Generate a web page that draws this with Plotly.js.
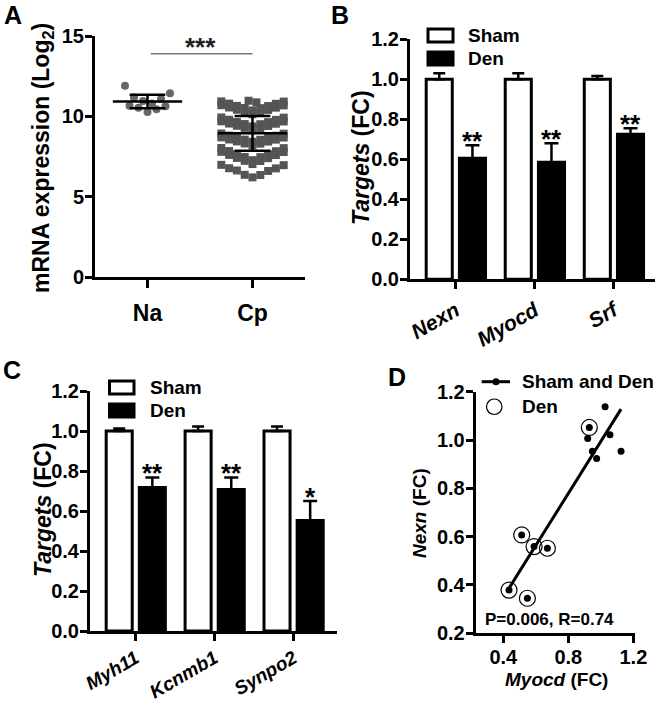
<!DOCTYPE html>
<html><head><meta charset="utf-8">
<script src="https://cdn.plot.ly/plotly-3.0.1.min.js"></script>
<style>html,body{margin:0;padding:0;background:#fff}#chart{width:660px;height:701px}</style>
</head><body><div id="chart"></div>
<script>
// ---------------- DATA ----------------
// Panel A : mRNA expression (Log2), scatter dot plot
const groupsA = ['Na', 'Cp'];
const naRowLow  = [10.27, 10.44, 10.54, 10.62, 10.66];
const naRowHigh = [10.80, 10.96, 11.08, 11.17, 11.44, 11.90];
const cpRowTop     = [10.87, 10.97];
const cpBand1Upper = [10.37, 10.51, 10.52, 10.64, 10.65, 10.78, 10.79, 10.92, 10.93];
const cpBand1Lower = [10.13, 10.27, 10.28, 10.40, 10.41, 10.54, 10.55, 10.68, 10.69];
const cpBand2Upper = [9.37, 9.51, 9.52, 9.64, 9.65, 9.78, 9.79, 9.92, 9.93];
const cpBand2Lower = [9.13, 9.27, 9.28, 9.40, 9.41, 9.54, 9.55, 9.68, 9.69];
const cpBand3Upper = [8.42, 8.54, 8.55, 8.67, 8.68, 8.79, 8.80, 8.92, 8.93];
const cpBand3Lower = [8.18, 8.30, 8.31, 8.43, 8.44, 8.55, 8.56, 8.68, 8.69];
const cpBand4Upper = [7.27, 7.46, 7.47, 7.64, 7.65, 7.83, 7.84, 8.02, 8.03];
const cpBand4Lower = [7.03, 7.22, 7.23, 7.40, 7.41, 7.59, 7.60, 7.78, 7.79];
const cpRowBottom  = [6.20, 6.35, 6.36, 6.60, 6.63, 6.76, 6.77, 6.96, 6.98];
const meansA = [10.92, 8.94];
const sdsA   = [0.42, 1.08];
const sigLabelA = '***';
const sigLevelA = 13.9;

// Panel B : Targets (FC)
const targetsB = ['Nexn', 'Myocd', 'Srf'];
const shamB    = [1.00, 1.00, 1.00];
const shamErrB = [0.030, 0.030, 0.016];
const denB     = [0.605, 0.585, 0.725];
const denErrB  = [0.065, 0.095, 0.030];
const sigB     = ['**', '**', '**'];

// Panel C : Targets (FC)
const targetsC = ['Myh11', 'Kcnmb1', 'Synpo2'];
const shamC    = [1.00, 1.00, 1.00];
const shamErrC = [0.012, 0.022, 0.022];
const denC     = [0.718, 0.708, 0.553];
const denErrC  = [0.050, 0.060, 0.097];
const sigC     = ['**', '**', '*'];

// Panel D : Nexn vs Myocd
const shamMyocdD = [0.919, 1.026, 1.056, 0.948, 0.974, 1.124];
const shamNexnD  = [1.006, 1.138, 1.022, 0.954, 0.924, 0.954];
const denMyocdD  = [0.929, 0.513, 0.589, 0.671, 0.435, 0.548];
const denNexnD   = [1.052, 0.607, 0.559, 0.552, 0.379, 0.345];
const pValueD = '0.006';
const rValueD = '0.74';

// ---------------- LAYOUT HELPERS ----------------
const W = 660, H = 701;
const px = x => x / W;
const py = y => 1 - y / H;
const FONT = 'Liberation Sans, Arial, Helvetica, sans-serif';

const geoA = {x0: 95,    x1: 305,   y0: 36,    y1: 277,   xr: [0.5, 2.5],   yr: [0, 15]};
const geoB = {x0: 410,   x1: 655,   y0: 39.3,  y1: 279.3, xr: [-0.58, 2.52], yr: [0, 1.2]};
const geoC = {x0: 90,    x1: 337,   y0: 391,   y1: 631,   xr: [-0.58, 2.55], yr: [0, 1.2]};
const geoD = {x0: 475.7, x1: 635,   y0: 391.7, y1: 633.3, xr: [0.23, 1.21], yr: [0.2, 1.2]};

const unitsPerPxA = (geoA.xr[1] - geoA.xr[0]) / (geoA.x1 - geoA.x0);

function swarm(center, values, spacing) {
  const v = values.slice().sort((a, b) => a - b);
  const n = v.length;
  const xs = v.map((_, i) => {
    let slot;
    if (n % 2 === 1) slot = (i === 0) ? 0 : (i % 2 === 1 ? (i + 1) / 2 : -i / 2);
    else { const k = Math.floor(i / 2); slot = (i % 2 === 0 ? 1 : -1) * (k + 0.5); }
    return center + slot * spacing * unitsPerPxA;
  });
  return {x: xs, y: v};
}

const traces = [];

const naRows = [naRowLow, naRowHigh];
const cpRows = [cpRowTop, cpBand1Upper, cpBand1Lower, cpBand2Upper, cpBand2Lower,
                cpBand3Upper, cpBand3Lower, cpBand4Upper, cpBand4Lower, cpRowBottom];
function collect(rows, center, spacing) {
  const X = [], Y = [];
  rows.forEach(r => { const s = swarm(center, r, spacing); X.push(...s.x); Y.push(...s.y); });
  return {X, Y};
}
const naPts = collect(naRows, 1, 9);
const cpPts = collect(cpRows, 2, 7.8);
traces.push({type: 'scatter', mode: 'markers', x: naPts.X, y: naPts.Y, xaxis: 'x', yaxis: 'y',
  marker: {symbol: 'circle', size: 8, color: '#666'}, hoverinfo: 'skip', showlegend: false});
traces.push({type: 'scatter', mode: 'markers', x: cpPts.X, y: cpPts.Y, xaxis: 'x', yaxis: 'y',
  marker: {symbol: 'square', size: 8, color: '#555'}, hoverinfo: 'skip', showlegend: false});

(function () {
  const X = [], Y = [];
  groupsA.forEach((g, i) => {
    const c = i + 1, m = meansA[i], s = sdsA[i];
    X.push(c - 0.33, c + 0.33, null); Y.push(m, m, null);
    X.push(c, c, null); Y.push(m - s, m + s, null);
    X.push(c - 0.17, c + 0.17, null); Y.push(m + s, m + s, null);
    X.push(c - 0.17, c + 0.17, null); Y.push(m - s, m - s, null);
  });
  traces.push({type: 'scatter', mode: 'lines', x: X, y: Y, xaxis: 'x', yaxis: 'y',
    line: {color: '#000', width: 2.5}, hoverinfo: 'skip', showlegend: false});
})();
traces.push({type: 'scatter', mode: 'lines', x: [1.03, 2.0], y: [sigLevelA, sigLevelA], xaxis: 'x', yaxis: 'y',
  line: {color: '#777', width: 1.5}, hoverinfo: 'skip', showlegend: false});

const BAR_W = 0.33;
const SHAM_OFF = -0.375, DEN_OFF = 0.045;
function bars(sham, shamErr, den, denErr, xa, ya) {
  const xs = sham.map((_, i) => i);
  traces.push({type: 'bar', x: xs, y: sham, xaxis: xa, yaxis: ya, width: BAR_W, offset: SHAM_OFF,
    marker: {color: '#fff', line: {color: '#000', width: 3}},
    error_y: {type: 'data', symmetric: false, array: shamErr, arrayminus: sham.map(() => 0),
      color: '#000', thickness: 2.5, width: 6},
    hoverinfo: 'skip', showlegend: false});
  traces.push({type: 'bar', x: xs, y: den, xaxis: xa, yaxis: ya, width: BAR_W, offset: DEN_OFF,
    marker: {color: '#000', line: {color: '#000', width: 3}},
    error_y: {type: 'data', symmetric: false, array: denErr, arrayminus: den.map(() => 0),
      color: '#000', thickness: 2.5, width: 7},
    hoverinfo: 'skip', showlegend: false});
}
bars(shamB, shamErrB, denB, denErrB, 'x2', 'y2');
bars(shamC, shamErrC, denC, denErrC, 'x3', 'y3');

const allX = shamMyocdD.concat(denMyocdD);
const allY = shamNexnD.concat(denNexnD);
(function () {
  const n = allX.length;
  const mx = allX.reduce((a, b) => a + b, 0) / n;
  const my = allY.reduce((a, b) => a + b, 0) / n;
  let sxy = 0, sxx = 0;
  for (let i = 0; i < n; i++) { sxy += (allX[i] - mx) * (allY[i] - my); sxx += (allX[i] - mx) ** 2; }
  const b = sxy / sxx, a = my - b * mx;
  const xmin = Math.min(...allX), xmax = Math.max(...allX);
  traces.push({type: 'scatter', mode: 'lines', x: [xmin, xmax], y: [a + b * xmin, a + b * xmax],
    xaxis: 'x4', yaxis: 'y4', line: {color: '#000', width: 3}, hoverinfo: 'skip', showlegend: false});
})();
traces.push({type: 'scatter', mode: 'markers', x: allX, y: allY, xaxis: 'x4', yaxis: 'y4',
  marker: {symbol: 'circle', size: 7, color: '#000'}, hoverinfo: 'skip', showlegend: false});
traces.push({type: 'scatter', mode: 'markers', x: denMyocdD, y: denNexnD, xaxis: 'x4', yaxis: 'y4',
  marker: {symbol: 'circle-open', size: 16, color: '#000', line: {width: 1.2}}, hoverinfo: 'skip', showlegend: false});

// ---------------- AXES ----------------
const tickFont = {family: FONT, size: 20, color: '#000', weight: 'bold'};
function axisBase(dom, range) {
  return {domain: dom, range: range, showline: true, linecolor: '#000', linewidth: 3,
    ticks: 'outside', ticklen: 7, tickwidth: 3, tickcolor: '#000', showgrid: false,
    zeroline: false, tickfont: tickFont, fixedrange: true};
}
function xdom(g) { return [g.x0 / W, g.x1 / W]; }
function ydom(g) { return [1 - g.y1 / H, 1 - g.y0 / H]; }
const yTicks01 = [0, 0.2, 0.4, 0.6, 0.8, 1.0, 1.2];

const layout = {
  width: W, height: H, margin: {l: 0, r: 0, t: 0, b: 0},
  paper_bgcolor: '#fff', plot_bgcolor: 'rgba(0,0,0,0)',
  font: {family: FONT, color: '#000'},
  barmode: 'overlay', showlegend: false,
  xaxis: Object.assign(axisBase(xdom(geoA), geoA.xr), {anchor: 'y', tickvals: [1, 2], ticktext: groupsA,
    tickfont: Object.assign({}, tickFont, {size: 23}), ticklabelstandoff: 5, ticklen: 8}),
  yaxis: Object.assign(axisBase(ydom(geoA), geoA.yr), {anchor: 'x', tickvals: [0, 5, 10, 15], ticklabelstandoff: -3}),
  xaxis2: Object.assign(axisBase(xdom(geoB), geoB.xr), {anchor: 'y2', tickvals: [0, 1, 2], ticktext: targetsB,
    tickangle: -30, tickfont: Object.assign({}, tickFont, {size: 21, style: 'italic'}), ticklabelstandoff: 1}),
  yaxis2: Object.assign(axisBase(ydom(geoB), geoB.yr), {anchor: 'x2', tickvals: yTicks01,
    tickformat: '.1f', ticklabelstandoff: -3}),
  xaxis3: Object.assign(axisBase(xdom(geoC), geoC.xr), {anchor: 'y3', tickvals: [0, 1, 2], ticktext: targetsC,
    tickangle: -30, tickfont: Object.assign({}, tickFont, {size: 19, style: 'italic'}), ticklabelstandoff: -1}),
  yaxis3: Object.assign(axisBase(ydom(geoC), geoC.yr), {anchor: 'x3', tickvals: yTicks01,
    tickformat: '.1f', ticklabelstandoff: -3}),
  xaxis4: Object.assign(axisBase(xdom(geoD), geoD.xr), {anchor: 'y4', tickvals: [0.4, 0.8, 1.2],
    tickformat: '.1f', ticklabelstandoff: -3}),
  yaxis4: Object.assign(axisBase(ydom(geoD), geoD.yr), {anchor: 'x4', tickvals: [0.2, 0.4, 0.6, 0.8, 1.0, 1.2],
    tickformat: '.1f', ticklabelstandoff: -3}),
  shapes: [],
  annotations: []
};

const ann = layout.annotations, shp = layout.shapes;
function label(text, x, y, size, opts) {
  ann.push(Object.assign({text: text, xref: 'paper', yref: 'paper', x: px(x), y: py(y), showarrow: false,
    xanchor: 'center', yanchor: 'middle', font: {family: FONT, size: size, color: '#000', weight: 'bold'}}, opts || {}));
}
label('A', 13, 15, 25); label('B', 340, 15, 25); label('C', 12, 370, 25); label('D', 397, 377, 25);
label('mRNA expression (Log<sub>2</sub>)', 43, 158, 23, {textangle: -90});
label('<i>Targets</i> (FC)', 361, 158, 23, {textangle: -90});
label('<i>Targets</i> (FC)', 43, 510, 23, {textangle: -90});
label('<i>Nexn</i> (FC)', 419, 513, 19, {textangle: -90});
label('<i>Myocd</i> (FC)', 556, 679, 19);
label('P=' + pValueD + ', R=' + rValueD, 549, 619, 17);

ann.push({text: sigLabelA, xref: 'x', yref: 'y', x: 1.5, y: sigLevelA, yanchor: 'bottom', showarrow: false,
  yshift: -10, font: {family: FONT, size: 26, color: '#222', weight: 'bold'}});
function stars(list, den, err, xa, ya) {
  list.forEach((s, i) => ann.push({text: s, xref: xa, yref: ya, x: i + DEN_OFF + BAR_W / 2, y: den[i] + err[i],
    yanchor: 'bottom', showarrow: false, yshift: -13, font: {family: FONT, size: 26, color: '#000', weight: 'bold'}}));
}
stars(sigB, denB, denErrB, 'x2', 'y2');
stars(sigC, denC, denErrC, 'x3', 'y3');

function barLegend(bx0, bx1, shamY, denY, textX) {
  shp.push({type: 'rect', xref: 'paper', yref: 'paper', x0: px(bx0), x1: px(bx1), y0: py(shamY + 6.5), y1: py(shamY - 6.5),
    line: {color: '#000', width: 3}, fillcolor: '#fff'});
  shp.push({type: 'rect', xref: 'paper', yref: 'paper', x0: px(bx0 - 1.5), x1: px(bx1 + 1.5), y0: py(denY + 8), y1: py(denY - 8),
    line: {width: 0}, fillcolor: '#000'});
  label('Sham', textX, shamY, 19, {xanchor: 'left'});
  label('Den', textX, denY, 19, {xanchor: 'left'});
}
barLegend(428, 453, 35.5, 58.5, 466);
barLegend(109.5, 134, 387.5, 410.5, 148);

shp.push({type: 'line', xref: 'paper', yref: 'paper', x0: px(481.7), x1: px(510), y0: py(381.7), y1: py(381.7),
  line: {color: '#000', width: 3}});
shp.push({type: 'circle', xref: 'paper', yref: 'paper', x0: px(492.5), x1: px(499.5), y0: py(385.2), y1: py(378.2),
  line: {width: 0}, fillcolor: '#000'});
shp.push({type: 'circle', xref: 'paper', yref: 'paper', x0: px(486.5), x1: px(502), y0: py(414.5), y1: py(399),
  line: {width: 1.2, color: '#000'}, fillcolor: 'rgba(0,0,0,0)'});
label('Sham and Den', 520, 381.7, 19, {xanchor: 'left'});
label('Den', 520, 406.7, 19, {xanchor: 'left'});

Plotly.newPlot('chart', traces, layout, {staticPlot: true, displayModeBar: false});
</script>
</body></html>
